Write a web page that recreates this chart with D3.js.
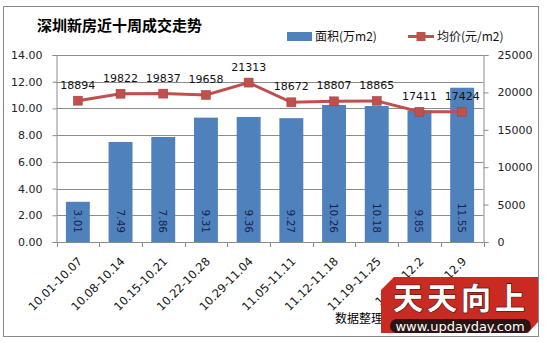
<!DOCTYPE html>
<html><head><meta charset="utf-8">
<script src="https://cdn.jsdelivr.net/npm/d3@7"></script>
<style>
html,body{margin:0;padding:0;background:#fff;}
svg{display:block;}
text{font-family:"DejaVu Sans",Verdana,sans-serif;}
.cjk{font-family:"Noto Sans CJK SC","Noto Sans",sans-serif;}
</style></head>
<body><svg id="c" width="545" height="343"></svg>
<script>
const categories = ["10.01-10.07","10.08-10.14","10.15-10.21","10.22-10.28","10.29-11.04","11.05-11.11","11.12-11.18","11.19-11.25","11.26-12.2","12.3-12.9"];
const areaValues = [3.01,7.49,7.86,9.31,9.36,9.27,10.26,10.18,9.85,11.55];
const priceValues = [18894,19822,19837,19658,21313,18672,18807,18865,17411,17424];
const leftTicks = [0,2,4,6,8,10,12,14];
const rightTicks = [0,5000,10000,15000,20000,25000];
const title = "深圳新房近十周成交走势";
const legendArea = "面积(万m2)";
const legendPrice = "均价(元/m2)";

const svg = d3.select("#c");
const L = 56.5, R = 483.5, T = 55, B = 242;
const blue = "#4F81BD", red = "#C0504D", grid = "#8c8c8c";

// outer border
svg.append("rect").attr("x",3.5).attr("y",6.5).attr("width",535).attr("height",330)
  .attr("fill","#fff").attr("stroke","#8a8a8a").attr("stroke-width",1);

const x = d3.scaleBand().domain(categories).range([L,R]).paddingInner(0.44).paddingOuter(0.22);
const xb = d3.scaleBand().domain(categories).range([L,R]);
const yL = d3.scaleLinear().domain([0,14]).range([B,T]);
const yR = d3.scaleLinear().domain([0,25000]).range([B,T]);

// gridlines
svg.append("g").selectAll("line").data(leftTicks.filter(d=>d>0)).join("line")
  .attr("x1",L).attr("x2",R).attr("y1",d=>Math.round(yL(d))+0.5).attr("y2",d=>Math.round(yL(d))+0.5)
  .attr("stroke",grid).attr("stroke-width",1);

// left axis
const gl = svg.append("g").attr("transform",`translate(${L},0)`)
  .call(d3.axisLeft(yL).tickValues(leftTicks).tickFormat(d3.format(".2f")).tickSize(4).tickPadding(10));
gl.select(".domain").attr("stroke",grid);
gl.selectAll(".tick line").attr("stroke",grid);
gl.selectAll("text").attr("font-size",11).attr("fill","#222").attr("font-family","DejaVu Sans");

// right axis
const gr = svg.append("g").attr("transform",`translate(${R},0)`)
  .call(d3.axisRight(yR).tickValues(rightTicks).tickFormat(d3.format("d")).tickSize(5).tickPadding(9));
gr.select(".domain").attr("stroke",grid);
gr.selectAll(".tick line").attr("stroke",grid);
gr.selectAll("text").attr("font-size",11).attr("fill","#222").attr("font-family","DejaVu Sans");

// bars
svg.append("g").selectAll("rect").data(areaValues).join("rect")
  .attr("x",(d,i)=>x(categories[i])).attr("width",x.bandwidth())
  .attr("y",d=>yL(d)).attr("height",d=>B-yL(d)).attr("fill",blue);

// bottom axis
const gb = svg.append("g").attr("transform",`translate(0,${B})`);
gb.append("line").attr("x1",L).attr("x2",R).attr("y1",0.5).attr("y2",0.5).attr("stroke",grid);
gb.selectAll("line.t").data(d3.range(categories.length+1)).join("line").attr("class","t")
  .attr("x1",i=>Math.round(L+i*xb.step())+0.5).attr("x2",i=>Math.round(L+i*xb.step())+0.5)
  .attr("y1",0).attr("y2",5).attr("stroke",grid);
gb.selectAll("text").data(categories).join("text")
  .attr("transform",d=>`translate(${xb(d)+xb.bandwidth()/2+5},20) rotate(-45)`)
  .attr("text-anchor","end").attr("font-size",11.5).attr("fill","#111").text(d=>d);

// bar labels (rotated)
svg.append("g").selectAll("text").data(areaValues).join("text")
  .attr("transform",(d,i)=>`translate(${x(categories[i])+x.bandwidth()/2-4},${B-9}) rotate(90)`)
  .attr("text-anchor","end").attr("font-size",10.5).attr("fill","#1a1f4a")
  .text(d=>d3.format(".2f")(d));

// line
const cx = (i)=>xb(categories[i])+xb.bandwidth()/2;
svg.append("path").datum(priceValues)
  .attr("d",d3.line().x((d,i)=>cx(i)).y(d=>yR(d)))
  .attr("fill","none").attr("stroke",red).attr("stroke-width",3);
svg.append("g").selectAll("rect").data(priceValues).join("rect")
  .attr("x",(d,i)=>cx(i)-4.5).attr("y",d=>yR(d)-4.5).attr("width",9).attr("height",9)
  .attr("fill",red).attr("stroke","#a33c3a").attr("stroke-width",0.5);
svg.append("g").selectAll("text").data(priceValues).join("text")
  .attr("x",(d,i)=>cx(i)).attr("y",d=>yR(d)-12)
  .attr("text-anchor","middle").attr("font-size",11).attr("fill","#111").text(d=>d);

// title
svg.append("text").attr("class","cjk").attr("x",37).attr("y",31)
  .attr("font-size",15).attr("font-weight","bold").attr("fill","#000").text(title);

// legend
svg.append("rect").attr("x",287).attr("y",32).attr("width",25).attr("height",9).attr("fill",blue);
svg.append("text").attr("class","cjk").attr("x",315).attr("y",41).attr("font-size",12).attr("fill","#111").text(legendArea);
svg.append("line").attr("x1",408).attr("x2",434).attr("y1",36.5).attr("y2",36.5).attr("stroke",red).attr("stroke-width",3);
svg.append("rect").attr("x",416.5).attr("y",32).attr("width",9).attr("height",9).attr("fill",red);
svg.append("text").attr("class","cjk").attr("x",437).attr("y",41).attr("font-size",12).attr("fill","#111").text(legendPrice);

// source note
svg.append("text").attr("class","cjk").attr("x",335).attr("y",323).attr("font-size",12).attr("fill","#000").text("数据整理：");

// watermark logo
const lg = svg.append("g");
lg.append("path").attr("d","M394,277 L538,277 L538,322 L528,333 L381,333 L381,290 Z").attr("fill","#c92a22");
lg.append("rect").attr("x",390).attr("y",319).attr("width",141).attr("height",14).attr("rx",7).attr("fill","#2a1414");
lg.append("text").attr("x",460).attr("y",331).attr("text-anchor","middle").attr("font-size",13)
  .attr("font-family","Liberation Sans, Arial, sans-serif").attr("fill","#fff").text("www.updayday.com");
lg.append("text").attr("class","cjk").attr("x",459).attr("y",309).attr("text-anchor","middle")
  .attr("font-size",30).attr("font-weight","bold").attr("fill","#fff").attr("textLength",132)
  .attr("stroke","#3a1010").attr("stroke-width",1.2).attr("paint-order","stroke").text("天天向上");
</script></body></html>
